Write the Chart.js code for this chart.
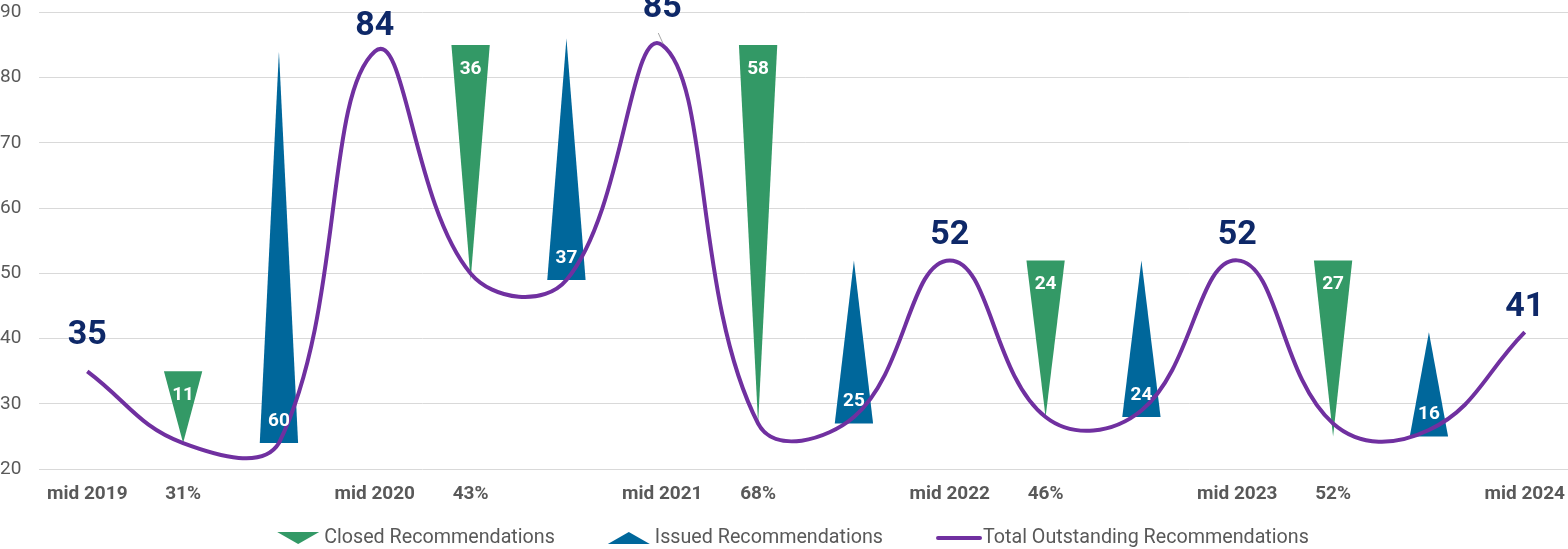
<!DOCTYPE html>
<html>
<head>
<meta charset="utf-8">
<script src="https://cdn.jsdelivr.net/npm/chart.js@4.4.1/dist/chart.umd.min.js"></script>
<style>
  html, body { margin: 0; padding: 0; background: #fff; }
  #wrap { position: relative; width: 1568px; height: 549px; overflow: hidden; }
  #chart { position: absolute; left: 0; top: -8px; }
</style>
</head>
<body>
<div id="wrap"><canvas id="chart" width="1579" height="557"></canvas></div>
<script>
// categories on the x axis (blank slots hold the "issued" triangles)
const categories = ['mid 2019', '31%', '', 'mid 2020', '43%', '', 'mid 2021', '68%', '', 'mid 2022', '46%', '', 'mid 2023', '52%', '', 'mid 2024'];

// purple line
const totalOutstanding = [35, 24, 24, 84, 50, 49, 85, 27, 28, 52, 28, 29, 52, 27, 26, 41];
const peakLabels = [35, null, null, 84, null, null, 85, null, null, 52, null, null, 52, null, null, 41];

// green down triangles: [top, tip]
const closedRanges = [null, [35, 24], null, null, [85, 49], null, null, [85, 27], null, null, [52, 28], null, null, [52, 25], null, null];
const closedValues = [null, 11, null, null, 36, null, null, 58, null, null, 24, null, null, 27, null, null];

// blue up triangles: [base, tip]
const issuedRanges = [null, null, [24, 84], null, null, [49, 86], null, null, [27, 52], null, null, [28, 52], null, null, [25, 41], null];
const issuedValues = [null, null, 60, null, null, 37, null, null, 25, null, null, 24, null, null, 16, null];

const yMin = 20, yMax = 90, yStep = 10;

const GREEN = '#339966';
const BLUE = '#00679b';
const PURPLE = '#7030a0';
const NAVY = '#0e2868';
const GREY = '#595959';
const FONT = 'Roboto';
const VIEW_W = 1568; // visible width (canvas is a bit wider, clipped by #wrap)

// draw floating bars as triangles
const trianglePlugin = {
    id: 'triangles',
    afterDatasetDraw(chart, args) {
        const ds = chart.data.datasets[args.index];
        if (!ds.triangle) return;
        const ctx = chart.ctx;
        ctx.save();
        ctx.fillStyle = ds.triColor;
        args.meta.data.forEach((bar, i) => {
            if (ds.data[i] == null) return;
            const p = bar.getProps(['x', 'y', 'base', 'width'], true);
            const top = Math.min(p.y, p.base);
            const bottom = Math.max(p.y, p.base);
            const half = p.width / 2;
            ctx.beginPath();
            if (ds.triangle === 'down') {
                ctx.moveTo(p.x - half, top);
                ctx.lineTo(p.x + half, top);
                ctx.lineTo(p.x, bottom);
            } else {
                ctx.moveTo(p.x - half, bottom);
                ctx.lineTo(p.x + half, bottom);
                ctx.lineTo(p.x, top);
            }
            ctx.closePath();
            ctx.fill();
        });
        ctx.restore();
    }
};

// value labels
const labelPlugin = {
    id: 'valueLabels',
    afterDatasetsDraw(chart) {
        const ctx = chart.ctx;
        ctx.save();
        ctx.textAlign = 'center';
        ctx.textBaseline = 'middle';

        // numbers inside the triangles
        ctx.fillStyle = '#ffffff';
        ctx.font = 'bold 19px ' + FONT;
        chart.data.datasets.forEach((ds, di) => {
            if (!ds.triangle) return;
            const meta = chart.getDatasetMeta(di);
            meta.data.forEach((bar, i) => {
                if (ds.values[i] == null) return;
                const p = bar.getProps(['x', 'y', 'base'], true);
                const top = Math.min(p.y, p.base);
                const bottom = Math.max(p.y, p.base);
                const y = ds.triangle === 'down' ? top + 24 : bottom - 22;
                ctx.fillText(String(ds.values[i]), p.x, y);
            });
        });

        // big numbers over the line peaks
        const lineIndex = chart.data.datasets.findIndex(d => d.type === 'line');
        const pts = chart.getDatasetMeta(lineIndex).data;
        ctx.font = 'bold 34px ' + FONT;
        ctx.fillStyle = NAVY;
        peakLabels.forEach((v, i) => {
            if (v == null) return;
            const pt = pts[i];
            let lift = 25;
            if (i === 0) lift = 36;
            if (i === 6) lift = 37;
            ctx.fillText(String(v), pt.x, pt.y - lift);
            if (i === 6) {
                ctx.strokeStyle = '#a6a6a6';
                ctx.lineWidth = 1;
                ctx.beginPath();
                ctx.moveTo(pt.x - 4, pt.y - 12);
                ctx.lineTo(pt.x + 1, pt.y - 1);
                ctx.stroke();
            }
        });
        ctx.restore();
    }
};

// legend at the bottom with triangle/line markers
const legendPlugin = {
    id: 'bottomLegend',
    afterDraw(chart) {
        const ctx = chart.ctx;
        const items = [0, 1, 2].map(i => chart.data.datasets.find(d => d.legendPos === i));
        ctx.save();
        ctx.font = '19.7px ' + FONT;
        const markW = 42, gapText = 5, gapItem = 53;
        let total = 0;
        items.forEach((d, i) => {
            total += markW + gapText + ctx.measureText(d.label).width;
            if (i < items.length - 1) total += gapItem;
        });
        let x = (VIEW_W - total) / 2 + 9;
        const y = chart.height - 11;
        items.forEach(d => {
            ctx.fillStyle = d.triColor || d.borderColor;
            if (d.triangle === 'down') {
                ctx.beginPath();
                ctx.moveTo(x, y - 6);
                ctx.lineTo(x + markW, y - 6);
                ctx.lineTo(x + markW / 2, y + 6);
                ctx.closePath();
                ctx.fill();
            } else if (d.triangle === 'up') {
                ctx.beginPath();
                ctx.moveTo(x, y + 6);
                ctx.lineTo(x + markW, y + 6);
                ctx.lineTo(x + markW / 2, y - 6);
                ctx.closePath();
                ctx.fill();
            } else {
                ctx.strokeStyle = d.borderColor;
                ctx.lineWidth = 4;
                ctx.lineCap = 'round';
                ctx.beginPath();
                ctx.moveTo(x + 2, y);
                ctx.lineTo(x + markW + 2, y);
                ctx.stroke();
            }
            x += markW + gapText;
            ctx.fillStyle = GREY;
            ctx.textAlign = 'left';
            ctx.textBaseline = 'middle';
            ctx.fillText(d.label, x, y);
            x += ctx.measureText(d.label).width + gapItem;
        });
        ctx.restore();
    }
};

const ctx = document.getElementById('chart').getContext('2d');
new Chart(ctx, {
    data: {
        labels: categories,
        datasets: [
            {
                type: 'line',
                label: 'Total Outstanding Recommendations',
                data: totalOutstanding,
                borderColor: PURPLE,
                borderWidth: 4,
                pointRadius: 0,
                tension: 0.42,
                fill: false,
                order: 0,
                legendPos: 2
            },
            {
                type: 'bar',
                label: 'Closed Recommendations',
                data: closedRanges,
                values: closedValues,
                triangle: 'down',
                triColor: GREEN,
                backgroundColor: 'rgba(0,0,0,0)',
                barPercentage: 0.4,
                categoryPercentage: 1,
                grouped: false,
                order: 2,
                legendPos: 0
            },
            {
                type: 'bar',
                label: 'Issued Recommendations',
                data: issuedRanges,
                values: issuedValues,
                triangle: 'up',
                triColor: BLUE,
                backgroundColor: 'rgba(0,0,0,0)',
                barPercentage: 0.4,
                categoryPercentage: 1,
                grouped: false,
                order: 1,
                legendPos: 1
            }
        ]
    },
    options: {
        responsive: false,
        animation: false,
        layout: { padding: { top: 0, right: 0, bottom: 29, left: 0 } },
        plugins: {
            legend: { display: false },
            tooltip: { enabled: false }
        },
        scales: {
            x: {
                offset: true,
                grid: { display: false, drawTicks: false },
                border: { display: false },
                ticks: {
                    color: GREY,
                    font: { family: FONT, size: 19, weight: 'bold' },
                    padding: 14,
                    autoSkip: false,
                    maxRotation: 0
                }
            },
            y: {
                min: yMin,
                max: yMax,
                grid: { color: '#d9d9d9', drawTicks: false },
                border: { display: false },
                ticks: {
                    stepSize: yStep,
                    color: GREY,
                    font: { family: FONT, size: 19 },
                    padding: 9,
                    crossAlign: 'far'
                }
            }
        }
    },
    plugins: [trianglePlugin, labelPlugin, legendPlugin]
});
</script>
</body>
</html>
